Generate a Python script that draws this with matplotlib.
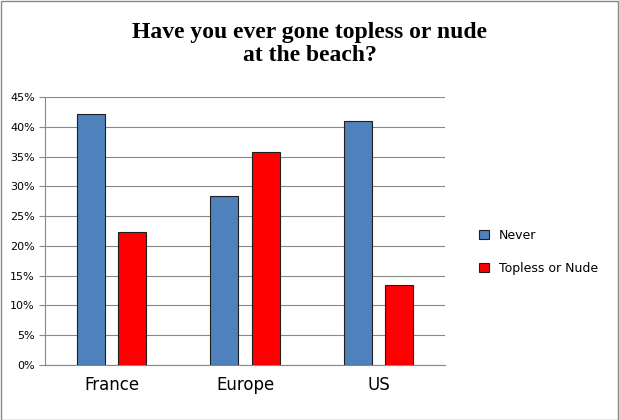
import matplotlib
matplotlib.use("Agg")
import matplotlib.pyplot as plt
import numpy as np

categories = ["France", "Europe", "US"]
never = [42.2, 28.4, 41.0]
topless = [22.4, 35.7, 13.4]
yticks = [0, 5, 10, 15, 20, 25, 30, 35, 40, 45]

fig = plt.figure(figsize=(6.19, 4.2), dpi=100)
fig.patch.set_facecolor("white")
fig.add_artist(plt.Rectangle((0.001, 0.001), 0.997, 0.997, transform=fig.transFigure,
                             fill=False, edgecolor="#888888", lw=1))
ax = fig.add_axes([0.073, 0.131, 0.646, 0.638])
x = np.arange(len(categories))
w = 0.21
ax.bar(x - 0.155, never, w, color="#4F81BD", edgecolor="#1F1F1F", lw=0.8, label="Never", zorder=3)
ax.bar(x + 0.155, topless, w, color="#FF0000", edgecolor="#1F1F1F", lw=0.8, label="Topless or Nude", zorder=3)
ax.set_xlim(-0.5, 2.5)
ax.set_ylim(0, 45)
ax.set_yticks(yticks)
ax.set_yticklabels([f"{v}%" for v in yticks], fontsize=8)
ax.set_xticks(x)
ax.set_xticklabels(categories, fontsize=12)
ax.tick_params(axis="x", length=0, pad=8)
ax.tick_params(axis="y", length=4, color="#888888")
ax.grid(axis="y", color="#888888", lw=0.8, zorder=0)
for s in ["top", "right"]:
    ax.spines[s].set_visible(False)
for s in ["left", "bottom"]:
    ax.spines[s].set_color("#888888")
fig.legend(loc="center left", bbox_to_anchor=(0.755, 0.40), frameon=False, fontsize=9,
           handlelength=0.8, handleheight=0.8, labelspacing=1.6)
fig.text(0.5, 0.895, "Have you ever gone topless or nude\nat the beach?", ha="center", va="center",
         fontsize=17, fontweight="bold", family="Liberation Serif", linespacing=1.15)
fig.savefig("out.png", dpi=100)
